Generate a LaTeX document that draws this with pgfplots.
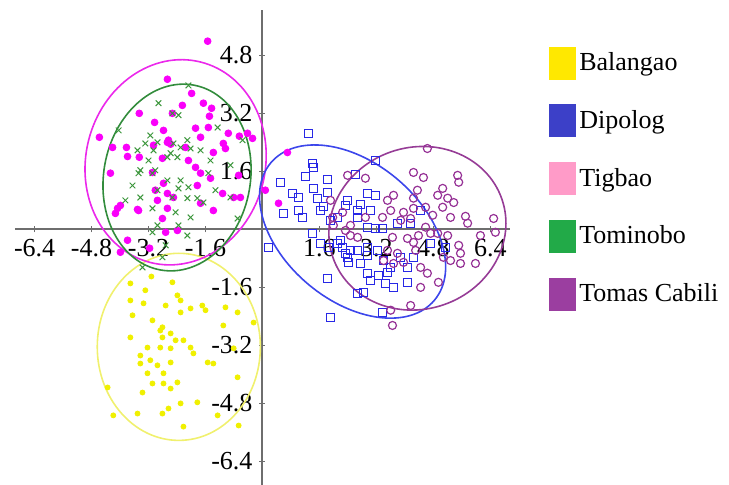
\documentclass[border=0pt]{standalone}
\usepackage{fontspec}
\setmainfont{Liberation Serif}
\usepackage{pgfplots}
\pgfplotsset{compat=1.18}
\definecolor{cYel}{RGB}{240,240,0}
\definecolor{cYelE}{RGB}{240,240,110}
\definecolor{cMag}{RGB}{250,0,250}
\definecolor{cMagE}{RGB}{235,40,235}
\definecolor{cGrn}{RGB}{60,150,60}
\definecolor{cGrnE}{RGB}{50,140,60}
\definecolor{cBlu}{RGB}{40,40,230}
\definecolor{cBluE}{RGB}{60,70,235}
\definecolor{cPur}{RGB}{150,50,150}
\definecolor{cPurE}{RGB}{150,60,150}
\definecolor{lYel}{RGB}{255,232,0}
\definecolor{lBlu}{RGB}{60,64,200}
\definecolor{lPnk}{RGB}{255,155,200}
\definecolor{lGrn}{RGB}{34,170,72}
\definecolor{lPur}{RGB}{155,62,160}
\definecolor{cAx}{RGB}{110,110,110}
\begin{document}
\begin{tikzpicture}
\useasboundingbox (-7.5pt,0pt) rectangle (357pt,242.5pt);
\begin{axis}[
  scale only axis, width=247.5pt, height=237.5pt,
  xmin=-6.95, xmax=6.95, ymin=-7.05, ymax=6.05,
  axis lines=middle,
  axis line style={-, draw=cAx, line width=1pt},
  xtick={-6.4,-4.8,-3.2,-1.6,1.6,3.2,4.8,6.4},
  xticklabels={-6.4,-4.8,-3.2,-1.6,1.6,3.2,4.8,6.4},
  ytick={-6.4,-4.8,-3.2,-1.6,1.6,3.2,4.8,6.4},
  yticklabels={-6.4,-4.8,-3.2,-1.6,1.6,3.2,4.8,6.4},
  tick style={draw=cAx, line width=0.6pt},
  major tick length=3pt,
  tick label style={font=\fontsize{13}{15}\selectfont, text=black},
  clip=false,
  legend style={at={(1.077,0.924)}, anchor=north west, draw=none, fill=none,
    row sep=12.5pt, inner sep=0pt, font=\fontsize{13}{15}\selectfont},
  legend cell align=left,
]
\addlegendimage{legend image code/.code={\fill[lYel] (0pt,-8pt) rectangle (13pt,8pt);}}
\addlegendentry{Balangao}
\addlegendimage{legend image code/.code={\fill[lBlu] (0pt,-8pt) rectangle (13pt,8pt);}}
\addlegendentry{Dipolog}
\addlegendimage{legend image code/.code={\fill[lPnk] (0pt,-8pt) rectangle (13pt,8pt);}}
\addlegendentry{Tigbao}
\addlegendimage{legend image code/.code={\fill[lGrn] (0pt,-8pt) rectangle (13pt,8pt);}}
\addlegendentry{Tominobo}
\addlegendimage{legend image code/.code={\fill[lPur] (0pt,-8pt) rectangle (13pt,8pt);}}
\addlegendentry{Tomas Cabili}

% Balangao
\addplot[forget plot, only marks, cYel, mark=*, mark size=1.25pt] coordinates {
(-3.12,-1.30) (-3.71,-1.49) (-2.53,-1.46) (-3.29,-1.68) (-2.39,-1.82) (-3.71,-1.96)
(-3.34,-2.04) (-2.72,-2.10) (-2.30,-1.96) (-2.02,-2.18) (-1.69,-2.10) (-1.60,-2.23)
(-1.04,-2.15) (-0.70,-2.29) (-0.25,-2.57) (-3.65,-2.37) (-3.09,-2.51) (-2.30,-2.29)
(-1.10,-2.65) (-2.81,-2.70) (-3.71,-2.98) (-2.81,-2.98) (-2.58,-2.87) (-2.22,-3.06)
(-2.02,-3.26) (-2.87,-3.26) (-3.23,-3.26) (-2.58,-3.28) (-1.94,-3.42) (-3.15,-3.61)
(-2.95,-3.75) (-3.43,-3.70) (-2.58,-3.67) (-1.54,-3.67) (-1.38,-3.70) (-3.23,-3.97)
(-2.78,-3.97) (-0.70,-4.08) (-3.09,-4.25) (-2.78,-4.25) (-2.39,-4.22) (-3.37,-4.50)
(-2.58,-4.39) (-4.35,-4.36) (-2.30,-4.80) (-1.83,-4.77) (-2.64,-4.94) (-2.81,-5.08)
(-3.51,-5.08) (-4.19,-5.13) (-1.26,-5.13) (-0.67,-5.41) (-2.22,-5.44) (-3.43,-3.48)
(-0.81,-3.28) (-2.87,-2.79) (-2.44,-3.06)
};
% Tigbao
\addplot[forget plot, only marks, cMag, mark=*, mark size=1.7pt] coordinates {
(-1.54,5.19) (-2.67,4.14) (-1.99,3.75) (-3.46,3.20) (-3.03,2.95) (-2.78,2.73)
(-2.53,3.20) (-2.25,3.42) (-1.66,3.48) (-1.43,3.34) (-1.49,3.12) (-1.88,2.79)
(-1.52,2.81) (-0.96,2.65) (-0.65,2.57) (-0.42,2.65) (-4.58,2.54) (-4.21,2.26)
(-3.82,2.26) (-3.79,2.01) (-3.46,1.99) (-2.67,2.40) (-2.58,2.35) (-3.06,2.32)
(-2.16,2.26) (-1.74,2.54) (-1.38,2.12) (-1.10,2.37) (-1.04,2.23) (-2.08,1.90)
(-1.88,1.71) (-1.74,1.55) (-1.46,1.41) (-0.67,1.49) (-2.78,1.27) (-2.67,0.99)
(-3.01,1.08) (-2.95,0.80) (-2.50,0.88) (-1.83,1.21) (-1.74,0.72) (-1.38,0.52)
(-1.12,0.99) (-0.81,0.88) (-0.62,0.88) (-4.07,0.58) (-4.13,0.44) (-3.51,0.55)
(-2.81,0.30) (-2.67,0.58) (-2.39,-0.03) (-3.79,-0.30) (-3.99,-0.63) (-3.17,-0.52)
(-4.27,1.55) (-3.09,1.57) (0.08,1.08) (0.70,2.12) (0.45,0.72) (-3.48,0.52)
(-3.99,0.66) (-2.72,-0.08) (-0.28,2.51) (-2.81,1.96) (-2.64,2.46)
};
% Tominobo
\addplot[forget plot, only marks, cGrn, mark=x, mark size=2pt, line width=0.5pt] coordinates {
(-2.92,3.48) (-2.08,3.97) (-2.36,3.15) (-2.53,3.20) (-3.15,2.59) (-3.29,2.37)
(-2.95,2.40) (-2.50,2.37) (-2.30,2.26) (-2.02,2.23) (-1.74,2.18) (-2.11,2.46)
(-1.26,2.81) (-0.56,2.46) (-4.04,2.73) (-3.51,2.18) (-3.06,2.18) (-2.67,1.99)
(-2.39,1.99) (-3.20,1.90) (-2.58,2.10) (-3.43,1.63) (-3.01,1.63) (-3.48,1.55)
(-3.65,1.21) (-3.43,0.88) (-3.09,1.55) (-2.95,1.08) (-2.36,1.13) (-2.08,1.16)
(-2.11,0.86) (-1.66,0.74) (-1.52,1.55) (-1.32,1.08) (-0.90,0.88) (-0.70,0.30)
(-2.53,0.88) (-2.44,0.47) (-2.02,0.33) (-3.09,0.58) (-2.95,0.11) (-2.11,-0.17)
(-2.36,0.11) (-3.09,-0.08) (-2.81,-0.77) (-3.37,-1.05) (-1.83,0.86) (-2.67,1.35)
(-2.30,1.35) (-1.46,1.90) (-3.85,0.80) (-0.90,1.77) (-2.72,-0.44)
};
% Dipolog
\addplot[forget plot, only marks, cBlu, mark=square, mark size=2pt, line width=0.6pt] coordinates {
(1.29,2.65) (1.40,1.82) (1.43,1.71) (1.21,1.46) (1.83,1.38) (0.51,1.30)
(2.61,1.52) (3.17,1.90) (0.84,0.99) (1.01,0.88) (1.43,1.13) (1.83,1.02)
(1.54,0.86) (1.63,0.52) (1.71,0.63) (0.59,0.44) (1.01,0.52) (1.12,0.33)
(2.11,0.33) (1.91,0.25) (2.39,0.80) (2.67,0.52) (2.75,0.69) (2.95,0.99)
(3.17,0.94) (3.03,0.52) (2.67,0.33) (2.95,0.06) (3.17,0.03) (3.37,0.03)
(1.40,-0.11) (1.63,-0.39) (1.85,-0.50) (2.11,-0.39) (2.25,-0.50) (2.33,-0.66)
(2.39,-0.77) (2.47,-0.58) (2.67,-0.58) (2.95,-0.72) (2.95,-0.50) (3.23,-0.58)
(2.42,-0.91) (2.75,-0.94) (3.40,-0.86) (3.60,-1.05) (3.88,-0.77) (4.07,-1.05)
(4.24,-0.77) (2.95,-1.21) (3.26,-1.27) (3.51,-1.19) (3.03,-1.41) (3.46,-1.49)
(3.68,-1.60) (4.07,-1.46) (1.83,-1.35) (2.67,-1.77) (2.84,-1.74) (1.91,-2.43)
(3.37,-2.29) (0.17,-0.50) (5.14,-0.50) (4.44,0.52) (4.16,0.17) (4.72,-0.39)
(3.79,0.17) (2.19,-0.30) (2.33,0.66)
};
% Tomas Cabili
\addplot[forget plot, only marks, cPur, mark=o, mark size=2pt, line width=0.6pt] coordinates {
(4.63,2.23) (4.24,1.57) (4.52,1.43) (2.89,1.41) (2.39,1.49) (5.48,1.49)
(5.51,1.30) (4.35,1.08) (3.68,0.94) (3.51,0.80) (4.92,0.94) (5.06,1.13)
(5.20,0.86) (5.37,0.74) (5.06,0.61) (4.24,0.86) (4.24,0.58) (4.58,0.61)
(4.78,0.39) (5.28,0.33) (5.70,0.36) (6.49,0.30) (5.76,0.17) (3.37,0.33)
(3.60,0.52) (3.88,0.25) (3.96,0.47) (4.16,0.30) (2.89,0.33) (2.25,0.47)
(1.91,0.80) (1.97,0.33) (1.99,0.11) (2.47,-0.17) (2.67,-0.22) (3.65,-0.22)
(4.07,-0.25) (4.38,-0.17) (4.72,-0.11) (4.92,-0.11) (5.20,-0.17) (6.12,-0.17)
(6.54,-0.08) (5.51,-0.44) (5.56,-0.66) (5.08,-0.77) (5.28,-0.86) (5.56,-0.94)
(5.98,-0.94) (4.24,-0.36) (4.30,-0.58) (3.79,-0.66) (3.68,-0.94) (3.96,-0.91)
(4.44,-1.05) (4.63,-1.21) (4.44,-1.60) (3.51,-0.58) (3.40,-0.86) (4.16,-2.10)
(3.60,-2.23) (3.65,-2.65) (4.94,-1.46) (2.33,-0.03) (2.47,0.11) (4.58,0.06)
};
% ellipses
\draw[cYelE, line width=0.8pt] (axis cs:-2.35,-3.24) ellipse [x radius=2.29, y radius=2.58];
\draw[cMagE, line width=0.8pt, rotate around={-14:(axis cs:-2.44,1.85)}] (axis cs:-2.44,1.85) ellipse [x radius=2.52, y radius=2.85];
\draw[cGrnE, line width=0.8pt, rotate around={-10:(axis cs:-2.40,1.43)}] (axis cs:-2.40,1.43) ellipse [x radius=2.06, y radius=2.59];
\draw[cBluE, line width=0.8pt, rotate around={-40:(axis cs:2.53,-0.06)}] (axis cs:2.53,-0.06) ellipse [x radius=3.0, y radius=1.9];
\draw[cPurE, line width=0.8pt, rotate around={19:(axis cs:4.35,0.03)}] (axis cs:4.35,0.03) ellipse [x radius=2.51, y radius=2.23];
\end{axis}
\end{tikzpicture}
\end{document}
